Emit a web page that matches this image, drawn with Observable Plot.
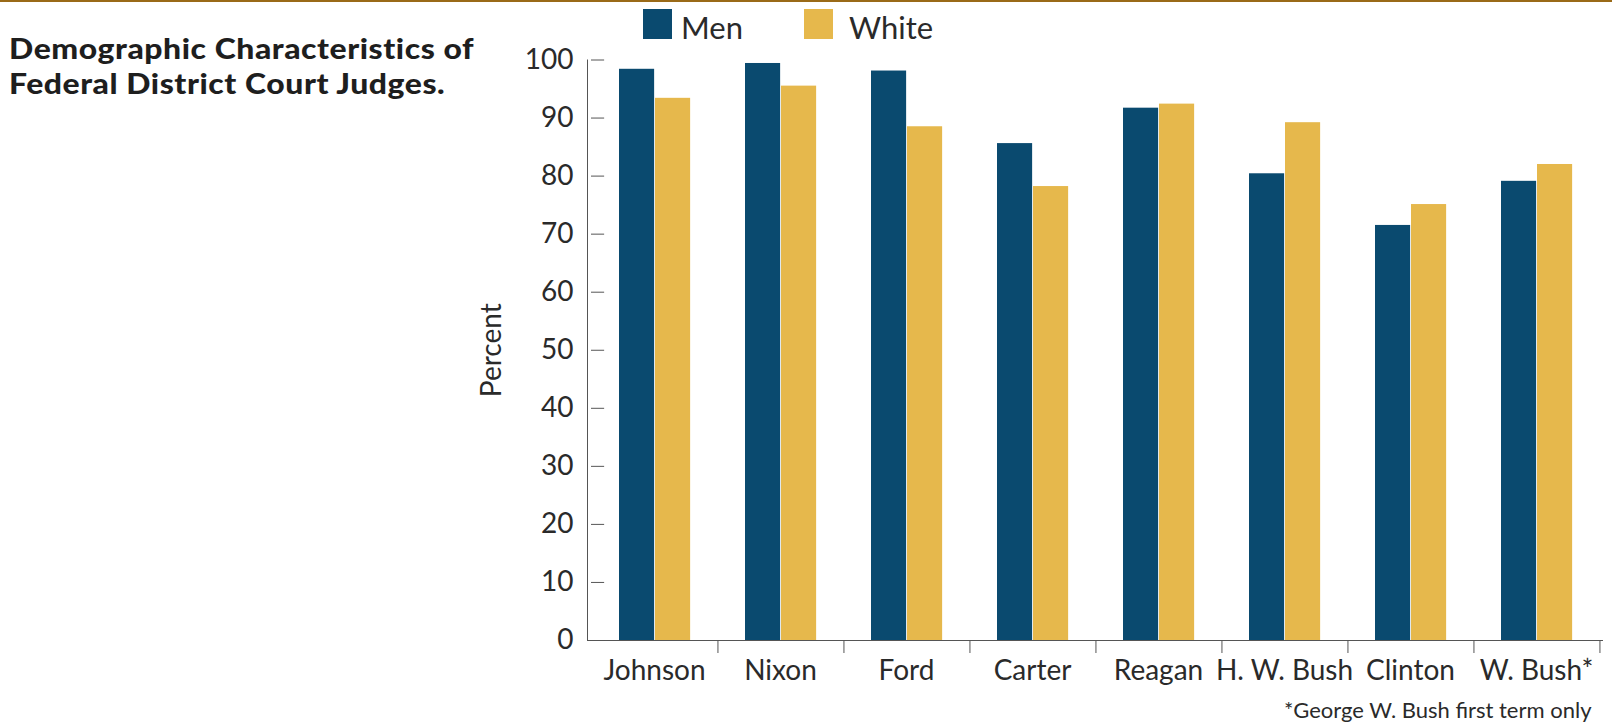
<!DOCTYPE html>
<html><head><meta charset="utf-8">
<script src="https://cdn.jsdelivr.net/npm/d3@7"></script>
<script src="https://cdn.jsdelivr.net/npm/@observablehq/plot@0.6"></script>
<style>
body{margin:0;background:#fff;}
#wrap{position:relative;width:1612px;height:728px;overflow:hidden;font-family:Lato,sans-serif;color:#222;background:#fff;}
#topline{position:absolute;left:0;top:0;width:1612px;height:2px;background:#9a6a18;}
.title{position:absolute;left:9px;font-weight:900;font-size:29px;line-height:34px;height:34px;color:#1e1e1e;white-space:nowrap;letter-spacing:0.5px;transform:scaleX(1.1);transform-origin:0 0;}
#legend{position:absolute;left:0;top:0;}
.sw{position:absolute;top:9px;width:29px;height:30px;}
.lt{position:absolute;top:9px;font-size:31px;line-height:36px;color:#2a2a2a;white-space:nowrap;}
#chart{position:absolute;left:0;top:0;}
</style></head><body>
<div id="wrap">
  <div id="chart"></div>
  <div id="topline"></div>
  <div class="title" style="top:31px">Demographic Characteristics of</div>
  <div class="title" style="top:66px">Federal District Court Judges.</div>
  <div id="legend"></div>
</div>
<script>
const presidents = ["Johnson","Nixon","Ford","Carter","Reagan","H. W. Bush","Clinton","W. Bush*"];
const menValues = [98.4,99.4,98.1,85.6,91.7,80.4,71.5,79.1];
const whiteValues = [93.4,95.5,88.5,78.2,92.4,89.2,75.1,82.0];
const yTicks = [0,10,20,30,40,50,60,70,80,90,100];
const seriesNames = ["Men","White"];
const seriesColors = ["#0a4a6f","#e6b84c"];
const yLabel = "Percent";
const footnote = "*George W. Bush first term only";

const W = 1612, H = 728, ML = 587, MR = 10, MT = 59.5, MB = 88;
const bw = (W - ML - MR) / presidents.length;
const barW = 36, padL = 28, tickLen = 14;

const menData = presidents.map((p, i) => ({president: p, value: menValues[i]}));
const whiteData = presidents.map((p, i) => ({president: p, value: whiteValues[i]}));

const chart = Plot.plot({
  width: W, height: H,
  marginLeft: ML, marginRight: MR, marginTop: MT, marginBottom: MB,
  style: {fontFamily: "Lato, sans-serif", fontSize: "28px", color: "#2a2a2a", background: "transparent"},
  x: {domain: presidents, padding: 0, label: null},
  y: {domain: [0, 100], label: null},
  marks: [
    Plot.barY(menData, {x: "president", y: "value", fill: seriesColors[0], insetLeft: padL, insetRight: bw - padL - barW}),
    Plot.barY(whiteData, {x: "president", y: "value", fill: seriesColors[1], insetLeft: padL + barW, insetRight: bw - padL - 2 * barW}),
    Plot.frame({anchor: "left", stroke: "#555"}),
    Plot.frame({anchor: "bottom", stroke: "#555"}),
    Plot.tickY(yTicks, {y: d => d, x: () => presidents[0], insetRight: bw - tickLen, stroke: "#555"}),
    Plot.axisY({ticks: yTicks, tickSize: 0, tickPadding: 14, label: null, fontSize: 28}),
    Plot.axisX({tickSize: 13, dx: bw / 2, fill: "none", stroke: "#555", label: null}),
    Plot.axisX({tickSize: 0, tickPadding: 20, label: null, fontSize: 28}),
    Plot.text([yLabel], {frameAnchor: "left", dx: -95, rotate: -90, textAnchor: "middle", lineAnchor: "middle", fontSize: 28}),
    Plot.text([footnote], {frameAnchor: "bottom-right", dx: -11, dy: 70, textAnchor: "end", lineAnchor: "middle", fontSize: 22})
  ]
});
document.getElementById("chart").appendChild(chart);

const legend = document.getElementById("legend");
const swX = [643, 804], txX = [681, 849];
seriesNames.forEach((name, i) => {
  const s = document.createElement("div");
  s.className = "sw"; s.style.left = swX[i] + "px"; s.style.background = seriesColors[i];
  legend.appendChild(s);
  const t = document.createElement("div");
  t.className = "lt"; t.style.left = txX[i] + "px"; t.textContent = name;
  legend.appendChild(t);
});
</script>
</body></html>
